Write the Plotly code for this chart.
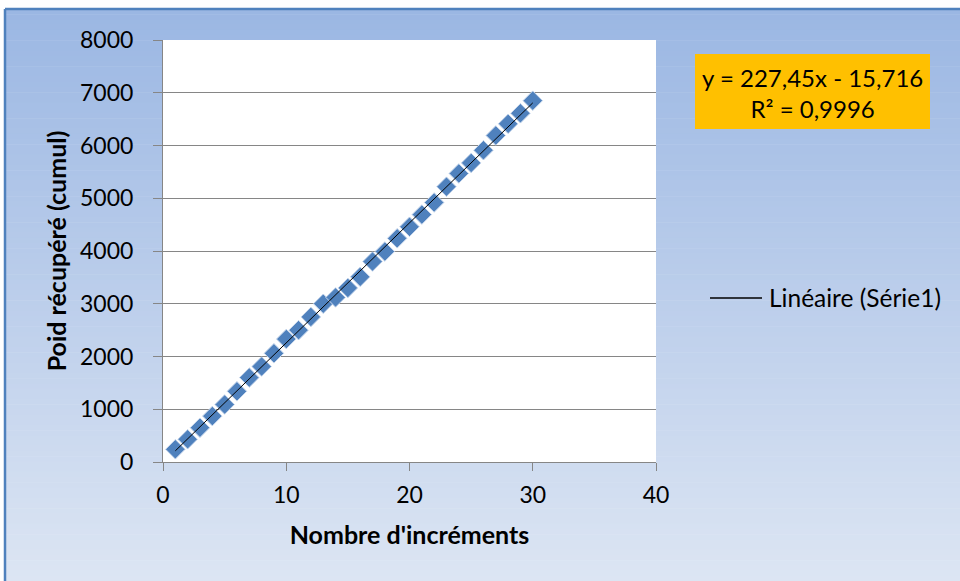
import plotly.graph_objects as go

# Cumulative recovered weight per increment
increments = list(range(1, 31))
poids_cumul = [240, 430, 650, 870, 1090, 1340, 1600, 1810, 2060, 2330,
               2500, 2750, 3000, 3120, 3300, 3510, 3800, 3990, 4240, 4460,
               4690, 4920, 5220, 5470, 5670, 5910, 6190, 6410, 6610, 6850]

# Linear trend reported on the chart
pente = 227.45
ordonnee = -15.716
r2 = 0.9996

x_ticks = [0, 10, 20, 30, 40]
y_ticks = [0, 1000, 2000, 3000, 4000, 5000, 6000, 7000, 8000]

W, H = 960, 581
ML, MR, MT, MB = 163, 304, 40, 119
PW, PH = W - ML - MR, H - MT - MB


def px_x(p):
    return (p - ML) / PW


def px_y(p):
    return (H - MB - p) / PH


FONT = "Lato"
BLUE = "#4F81BD"
GRID = "#868686"

fig = go.Figure()

fig.add_trace(go.Scatter(
    x=increments, y=poids_cumul, mode="markers", name="Série1",
    showlegend=False,
    marker=dict(symbol="diamond", size=15, color=BLUE,
                line=dict(color="#C6D6EC", width=1)),
))

trend_y = [pente * x + ordonnee for x in increments]
fig.add_trace(go.Scatter(
    x=increments, y=trend_y, mode="lines", name="Linéaire (Série1)",
    showlegend=False,
    line=dict(color="black", width=1),
))

# Vertical gradient background of the chart area
shapes = []
top_c = (155, 183, 227)
bot_c = (220, 229, 243)
y0_px, y1_px = 9, H
n = 110
for i in range(n):
    t = i / (n - 1)
    c = tuple(round(a + (b - a) * t) for a, b in zip(top_c, bot_c))
    a = y0_px + (y1_px - y0_px) * i / n
    b = y0_px + (y1_px - y0_px) * (i + 1) / n + 0.6
    shapes.append(dict(type="rect", xref="paper", yref="paper", layer="below",
                       x0=px_x(5), x1=px_x(W + 2), y0=px_y(b), y1=px_y(a),
                       line=dict(width=0), fillcolor="rgb(%d,%d,%d)" % c))
# outer border (top and left)
shapes.append(dict(type="line", xref="paper", yref="paper", layer="below",
                   x0=px_x(5), x1=px_x(W + 2), y0=px_y(9), y1=px_y(9),
                   line=dict(color=BLUE, width=2.5)))
shapes.append(dict(type="line", xref="paper", yref="paper", layer="below",
                   x0=px_x(5), x1=px_x(5), y0=px_y(9), y1=px_y(H + 2),
                   line=dict(color=BLUE, width=2.5)))
# white plot area
shapes.append(dict(type="rect", xref="paper", yref="paper", layer="below",
                   x0=0, x1=1, y0=0, y1=1, line=dict(width=0), fillcolor="white"))
# equation box
shapes.append(dict(type="rect", xref="paper", yref="paper", layer="below",
                   x0=px_x(695), x1=px_x(930), y0=px_y(129), y1=px_y(54),
                   line=dict(width=0), fillcolor="#FFC000"))
# legend key for the trend line
shapes.append(dict(type="line", xref="paper", yref="paper",
                   x0=px_x(710), x1=px_x(762), y0=px_y(298), y1=px_y(298),
                   line=dict(color="black", width=1.5)))

eq_text = "y = %sx - %s<br>R² = %s" % (
    f"{pente:.2f}".replace(".", ","),
    f"{-ordonnee:.3f}".replace(".", ","),
    f"{r2:.4f}".replace(".", ","))

fig.update_layout(
    width=W, height=H,
    margin=dict(l=ML, r=MR, t=MT, b=MB),
    paper_bgcolor="white",
    plot_bgcolor="rgba(0,0,0,0)",
    font=dict(family=FONT, size=23, color="black"),
    shapes=shapes,
    showlegend=False,
    annotations=[
        dict(xref="paper", yref="paper", x=px_x(812), y=px_y(93),
             xanchor="center", yanchor="middle",
             text=eq_text, showarrow=False, align="center",
             font=dict(family=FONT, size=24, color="black")),
        dict(xref="paper", yref="paper", x=px_x(767), y=px_y(297),
             xanchor="left", yanchor="middle",
             text="Linéaire (Série1)", showarrow=False,
             font=dict(family=FONT, size=24.5, color="black")),
    ],
    xaxis=dict(range=[0, 40], tickvals=x_ticks, showgrid=False, zeroline=False,
               showline=True, linecolor=GRID, linewidth=1,
               ticks="outside", ticklen=8, tickcolor=GRID,
               ticklabelstandoff=4,
               title=dict(text="<b>Nombre d'incréments</b>", standoff=19,
                          font=dict(family=FONT, size=25))),
    yaxis=dict(range=[0, 8000], tickvals=y_ticks, showgrid=True, gridcolor=GRID,
               gridwidth=1, zeroline=False, showline=True, linecolor=GRID,
               linewidth=1, ticks="outside", ticklen=9, tickcolor=GRID,
               ticklabelstandoff=15,
               title=dict(text="<b>Poid récupéré (cumul)</b>", standoff=6,
                          font=dict(family=FONT, size=25))),
)

fig.write_html("out.html")
